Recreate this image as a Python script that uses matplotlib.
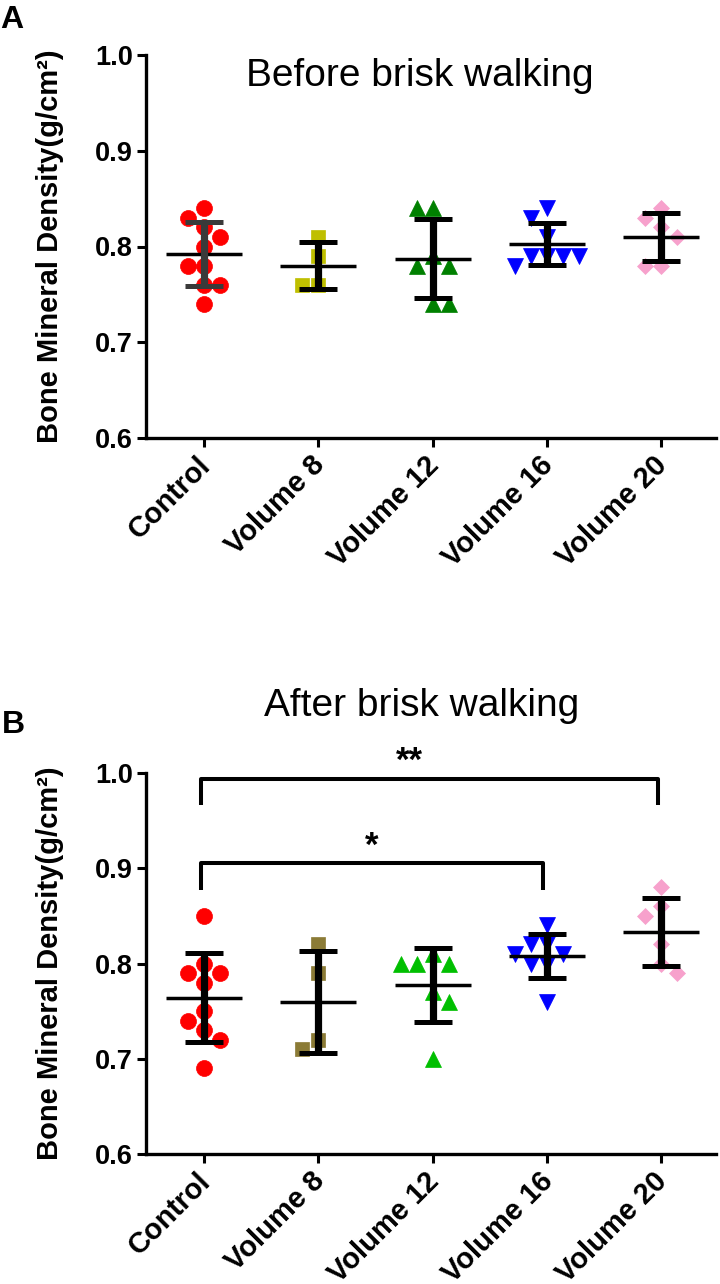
import numpy as np
import matplotlib
matplotlib.use("Agg")
import matplotlib.pyplot as plt
import matplotlib.transforms as mtransforms

plt.rcParams['font.family'] = ['Liberation Sans', 'DejaVu Sans']

# ---------------- data ----------------
categories = ["Control", "Volume 8", "Volume 12", "Volume 16", "Volume 20"]

before_control = [0.84, 0.83, 0.82, 0.81, 0.80, 0.78, 0.78, 0.76, 0.76, 0.74]
before_v8 = [0.81, 0.79, 0.76, 0.76]
before_v12 = [0.84, 0.84, 0.79, 0.78, 0.78, 0.74, 0.74]
before_v16 = [0.84, 0.83, 0.81, 0.79, 0.79, 0.79, 0.79, 0.78]
before_v20 = [0.84, 0.83, 0.82, 0.81, 0.78, 0.78]

after_control = [0.85, 0.80, 0.79, 0.79, 0.78, 0.75, 0.74, 0.73, 0.72, 0.69]
after_v8 = [0.82, 0.79, 0.72, 0.71]
after_v12 = [0.81, 0.80, 0.80, 0.80, 0.77, 0.76, 0.70]
after_v16 = [0.84, 0.82, 0.82, 0.81, 0.81, 0.80, 0.80, 0.76]
after_v20 = [0.88, 0.86, 0.85, 0.82, 0.80, 0.79]

yticks = [0.6, 0.7, 0.8, 0.9, 1.0]

sig_groups = [(0, 4), (0, 3)]
sig_labels = ["**", "*"]
sig_tops = [0.994, 0.905]
sig_drop = 0.028

# ---------------- styles ----------------
markers = ['o', 's', '^', 'v', 'D']
msizes = [11.5, 10, 11.5, 11.5, 7.8]
colors_before = ['#FF0000', '#BFBF00', '#008000', '#0000FF', '#F7A1CC']
colors_after = ['#FF0000', '#8B7B36', '#00BF00', '#0000FF', '#F7A1CC']
ebar_colors_before = ['#3A3A3A', 'black', 'black', 'black', 'black']
ebar_colors_after = ['black'] * 5

W, H = 720, 1284
fig = plt.figure(figsize=(W / 100, H / 100), dpi=100)

ax_left, ax_right = 146, 716
top_axes_px = (55, 438)
bot_axes_px = (773, 1154)
XLIM = (-0.508, 4.48)


def make_axes(ytop, ybot):
    return fig.add_axes([ax_left / W, 1 - ybot / H, (ax_right - ax_left) / W, (ybot - ytop) / H])


def swarm(vals, diam_px, px_x, px_y):
    placed = []
    offs = [0.0] * len(vals)
    order = sorted(range(len(vals)), key=lambda i: -vals[i])
    step = 0.5 * diam_px
    nl = nr = 0
    for i in order:
        y = vals[i] * px_y
        k = 0
        while True:
            if k == 0:
                cands = [0.0]
            elif nl <= nr:
                cands = [-k * step, k * step]
            else:
                cands = [k * step, -k * step]
            ok = None
            for c in cands:
                if all((c - qx) ** 2 + (y - qy) ** 2 >= (0.98 * diam_px) ** 2 for qx, qy in placed):
                    ok = c
                    break
            if ok is not None:
                break
            k += 1
        placed.append((ok, y))
        if ok < 0:
            nl += 1
        elif ok > 0:
            nr += 1
        offs[i] = ok / px_x
    return offs


def draw_panel(ax, groups, colors, ecolors, ypx):
    ax.set_xlim(*XLIM)
    ax.set_ylim(0.6, 1.0)
    px_x = (ax_right - ax_left) / (XLIM[1] - XLIM[0])
    px_y = (ypx[1] - ypx[0]) / 0.4
    for i, vals in enumerate(groups):
        diam = 16.0
        offs = swarm(vals, diam, px_x, px_y)
        xs = [i + o for o in offs]
        ax.plot(xs, vals, linestyle='none', marker=markers[i], ms=msizes[i],
                mfc=colors[i], mec=colors[i], mew=0.5, zorder=2, clip_on=False)
        m = np.mean(vals)
        sd = np.std(vals, ddof=1)
        ec = ecolors[i]
        ax.plot([i - 0.333, i + 0.333], [m, m], color='black', lw=2.5,
                solid_capstyle='butt', zorder=3)
        ax.plot([i, i], [m - sd, m + sd], color=ec, lw=5.2,
                solid_capstyle='butt', zorder=3)
        for v in (m - sd, m + sd):
            ax.plot([i - 0.166, i + 0.166], [v, v], color=ec, lw=3.6,
                    solid_capstyle='butt', zorder=3)

    for s in ('top', 'right'):
        ax.spines[s].set_visible(False)
    for s in ('left', 'bottom'):
        ax.spines[s].set_linewidth(2.4)
    ax.set_yticks(yticks)
    ax.set_yticklabels([f"{t:.1f}" for t in yticks], fontsize=19.5, fontweight='bold')
    ax.set_xticks(range(len(categories)))
    ax.set_xticklabels([])
    shift = mtransforms.ScaledTranslation(-8 / 100, -13 / 100, fig.dpi_scale_trans)
    for i, cat in enumerate(categories):
        ax.text(i, 0, cat, transform=ax.get_xaxis_transform() + shift,
                fontsize=21, fontweight='bold', rotation=45,
                ha='right', va='top', rotation_mode='anchor', clip_on=False)
    ax.tick_params(axis='both', direction='out', length=6.5, width=2.2)
    ax.tick_params(axis='y', pad=3)
    ax.set_ylabel("Bone Mineral Density(g/cm²)", fontsize=21, fontweight='bold')
    ax.yaxis.set_label_coords((50 - ax_left) / (ax_right - ax_left), 0.5)
    ax.yaxis.label.set_va('center')


ax1 = make_axes(*top_axes_px)
draw_panel(ax1, [before_control, before_v8, before_v12, before_v16, before_v20],
           colors_before, ebar_colors_before, top_axes_px)

ax2 = make_axes(*bot_axes_px)
draw_panel(ax2, [after_control, after_v8, after_v12, after_v16, after_v20],
           colors_after, ebar_colors_after, bot_axes_px)

# significance brackets
sig_text_x = [1.80, 1.47]
for (a, b), lab, top, tx in zip(sig_groups, sig_labels, sig_tops, sig_text_x):
    xa, xb = a - 0.03, b - 0.03
    ax2.plot([xa, xa, xb, xb], [top - sig_drop, top, top, top - sig_drop],
             color='black', lw=2.9, solid_joinstyle='round', solid_capstyle='butt',
             zorder=4, clip_on=False)
    ax2.text(tx, top + 0.008, lab, ha='center', va='baseline', fontsize=25,
             fontweight='bold', zorder=5)

# titles and panel letters
fig.text(420 / W, 1 - 86 / H, "Before brisk walking", ha='center', va='baseline', fontsize=28)
fig.text(422 / W, 1 - 716 / H, "After brisk walking", ha='center', va='baseline', fontsize=28)
fig.text(0 / W, 1 - 28 / H, "A", ha='left', va='baseline', fontsize=23, fontweight='bold')
fig.text(2 / W, 1 - 733 / H, "B", ha='left', va='baseline', fontsize=23, fontweight='bold')

fig.savefig("out.png", dpi=100)
